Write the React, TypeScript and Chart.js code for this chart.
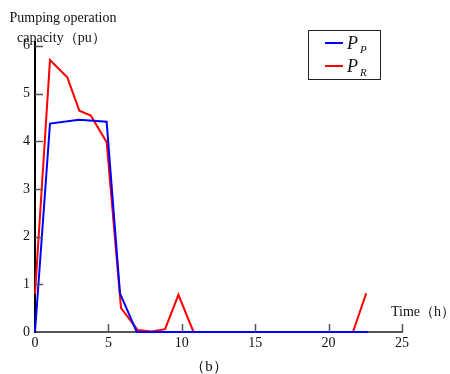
import React, { useEffect, useRef } from "react";
import { Chart, registerables } from "chart.js";

Chart.register(...registerables);

// ---- data ----
const hoursP = [0, 1.02, 3.0, 4.88, 5.79, 6.93, 22.7];
const valuesP = [0, 4.37, 4.45, 4.41, 0.81, 0, 0];

const hoursR = [0, 1.02, 2.2, 3.02, 3.8, 4.88, 5.86, 7.0, 7.95, 8.86, 9.77, 10.8, 21.66, 22.56];
const valuesR = [0.8, 5.7, 5.34, 4.64, 4.54, 3.98, 0.5, 0.04, 0.01, 0.06, 0.78, 0, 0, 0.81];

const xTickValues = [0, 5, 10, 15, 20, 25];
const yTickValues = [0, 1, 2, 3, 4, 5, 6];

const legendMain = ["P", "P"];
const legendSubs = ["P", "R"];
const seriesColors = ["#0000ff", "#ff0000"];

const yTitleLines = ["Pumping operation", "capacity（pu）"];
const xTitle = "Time（h）";
const caption = "（b）";

const SERIF = '"Liberation Serif", "Times New Roman", serif';

const overlayPlugin = {
  id: "overlay",
  afterDraw(chart: any) {
    const { ctx, chartArea, scales } = chart;
    const xs = scales.x;
    const ys = scales.y;
    ctx.save();
    // inward tick marks
    ctx.strokeStyle = "#555";
    ctx.lineWidth = 1.5;
    yTickValues.forEach((v) => {
      if (v === 0) return;
      const py = Math.round(ys.getPixelForValue(v)) + 0.5;
      ctx.beginPath();
      ctx.moveTo(chartArea.left, py);
      ctx.lineTo(chartArea.left + 8, py);
      ctx.stroke();
    });
    xTickValues.forEach((v) => {
      if (v === 0) return;
      const px = Math.round(xs.getPixelForValue(v)) + 0.5;
      ctx.beginPath();
      ctx.moveTo(px, chartArea.bottom);
      ctx.lineTo(px, chartArea.bottom - 8);
      ctx.stroke();
    });

    // texts
    ctx.fillStyle = "#111";
    ctx.font = `14px ${SERIF}`;
    ctx.textBaseline = "middle";
    ctx.textAlign = "center";
    ctx.fillText(yTitleLines[0], 63, 18);
    ctx.textAlign = "left";
    ctx.fillText(yTitleLines[1], 17, 38);
    ctx.fillText(xTitle, 391, 312);
    ctx.textAlign = "center";
    ctx.font = `15px ${SERIF}`;
    ctx.fillText(caption, 209, 367);

    // legend
    const bx = 308, by = 30, bw = 72, bh = 49;
    ctx.strokeStyle = "#222";
    ctx.lineWidth = 1;
    ctx.strokeRect(bx + 0.5, by + 0.5, bw, bh);
    const rowsY = [43, 66];
    rowsY.forEach((ry, i) => {
      ctx.strokeStyle = seriesColors[i];
      ctx.lineWidth = 2;
      ctx.beginPath();
      ctx.moveTo(325, ry);
      ctx.lineTo(343, ry);
      ctx.stroke();
      ctx.fillStyle = "#111";
      ctx.textAlign = "left";
      ctx.textBaseline = "alphabetic";
      ctx.font = `italic 18px ${SERIF}`;
      ctx.fillText(legendMain[i], 347, ry + 6);
      ctx.font = `italic 11px ${SERIF}`;
      ctx.fillText(legendSubs[i], 360, ry + 10);
    });
    ctx.restore();
  },
};

export default function App() {
  const canvasRef = useRef<HTMLCanvasElement | null>(null);

  useEffect(() => {
    const canvas = canvasRef.current;
    if (!canvas) return;
    const chart = new Chart(canvas, {
      type: "line",
      data: {
        datasets: [
          {
            label: "PP",
            data: hoursP.map((h, i) => ({ x: h, y: valuesP[i] })),
            borderColor: seriesColors[0],
            borderWidth: 2,
            pointRadius: 0,
            tension: 0,
            fill: false,
            clip: false as any,
          },
          {
            label: "PR",
            data: hoursR.map((h, i) => ({ x: h, y: valuesR[i] })),
            borderColor: seriesColors[1],
            borderWidth: 2,
            pointRadius: 0,
            tension: 0,
            fill: false,
            clip: false as any,
          },
        ],
      },
      options: {
        responsive: false,
        animation: false,
        events: [],
        layout: { padding: { top: 42, right: 48, left: 0, bottom: 0 } },
        plugins: {
          legend: { display: false },
          tooltip: { enabled: false },
          title: { display: false },
        },
        scales: {
          x: {
            type: "linear",
            min: 0,
            max: 25,
            afterBuildTicks: (scale: any) => {
              scale.ticks = xTickValues.map((v) => ({ value: v }));
            },
            afterFit: (scale: any) => {
              scale.height = 42;
            },
            grid: { display: false, drawTicks: false, tickLength: 0 },
            border: { display: true, color: "#555", width: 2 },
            ticks: {
              color: "#111",
              padding: 3,
              maxRotation: 0,
              font: { family: SERIF, size: 14 },
            },
          },
          y: {
            type: "linear",
            min: 0,
            max: 6.08,
            afterBuildTicks: (scale: any) => {
              scale.ticks = yTickValues.map((v) => ({ value: v }));
            },
            afterFit: (scale: any) => {
              scale.width = 35;
            },
            grid: { display: false, drawTicks: false, tickLength: 0 },
            border: { display: true, color: "#000", width: 2 },
            ticks: {
              color: "#111",
              padding: 5,
              font: { family: SERIF, size: 14 },
            },
          },
        },
      },
      plugins: [overlayPlugin],
    } as any);
    return () => chart.destroy();
  }, []);

  return (
    <div style={{ position: "fixed", left: 0, top: 0, width: 450, height: 374, background: "#fff" }}>
      <canvas ref={canvasRef} width={450} height={374} style={{ width: 450, height: 374 }} />
    </div>
  );
}
